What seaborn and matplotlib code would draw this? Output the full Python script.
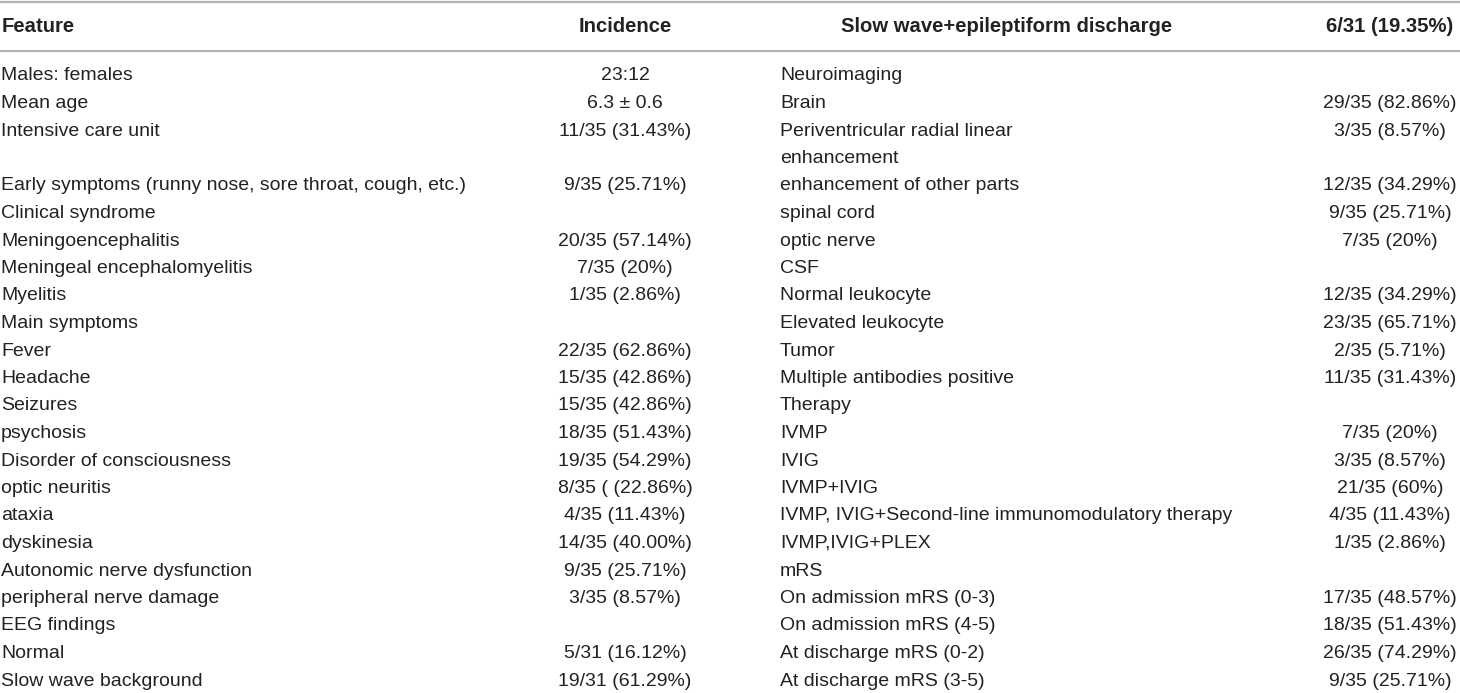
import matplotlib
matplotlib.use("Agg")
import matplotlib.pyplot as plt
import seaborn as sns

# table content
header_left = ["Feature", "Incidence"]
header_right = ["Slow wave+epileptiform discharge", "6/31 (19.35%)"]

left_labels = [
    "Males: females", "Mean age", "Intensive care unit",
    "Early symptoms (runny nose, sore throat, cough, etc.)",
    "Clinical syndrome", "Meningoencephalitis", "Meningeal encephalomyelitis",
    "Myelitis", "Main symptoms", "Fever", "Headache", "Seizures", "psychosis",
    "Disorder of consciousness", "optic neuritis", "ataxia", "dyskinesia",
    "Autonomic nerve dysfunction", "peripheral nerve damage", "EEG findings",
    "Normal", "Slow wave background",
]
left_values = [
    "23:12", "6.3 ± 0.6", "11/35 (31.43%)", "9/35 (25.71%)", "",
    "20/35 (57.14%)", "7/35 (20%)", "1/35 (2.86%)", "", "22/35 (62.86%)",
    "15/35 (42.86%)", "15/35 (42.86%)", "18/35 (51.43%)", "19/35 (54.29%)",
    "8/35 ( (22.86%)", "4/35 (11.43%)", "14/35 (40.00%)", "9/35 (25.71%)",
    "3/35 (8.57%)", "", "5/31 (16.12%)", "19/31 (61.29%)",
]
# the intensive care row is two lines high because of the wrapped cell on the right
left_heights = [1, 1, 2] + [1] * 19

right_labels = [
    "Neuroimaging", "Brain", "Periventricular radial linear\nenhancement",
    "enhancement of other parts", "spinal cord", "optic nerve", "CSF",
    "Normal leukocyte", "Elevated leukocyte", "Tumor",
    "Multiple antibodies positive", "Therapy", "IVMP", "IVIG", "IVMP+IVIG",
    "IVMP, IVIG+Second-line immunomodulatory therapy", "IVMP,IVIG+PLEX", "mRS",
    "On admission mRS (0-3)", "On admission mRS (4-5)",
    "At discharge mRS (0-2)", "At discharge mRS (3-5)",
]
right_values = [
    "", "29/35 (82.86%)", "3/35 (8.57%)", "12/35 (34.29%)", "9/35 (25.71%)",
    "7/35 (20%)", "", "12/35 (34.29%)", "23/35 (65.71%)", "2/35 (5.71%)",
    "11/35 (31.43%)", "", "7/35 (20%)", "3/35 (8.57%)", "21/35 (60%)",
    "4/35 (11.43%)", "1/35 (2.86%)", "", "17/35 (48.57%)", "18/35 (51.43%)",
    "26/35 (74.29%)", "9/35 (25.71%)",
]

sns.set_theme(style="white")
plt.rcParams["font.family"] = ["Liberation Sans", "DejaVu Sans"]

W, H = 1460, 693
fig = plt.figure(figsize=(14.6, 6.93), dpi=100)
ax = fig.add_axes([0, 0, 1, 1])
ax.set_xlim(0, W)
ax.set_ylim(H, 0)
ax.axis("off")

txt = "#222222"
rule = "#b3b3b3"
fs_head = 14.6
fs = 14.0
first_y = 76
step = 27.5

# rules
ax.axhline(1.5, color=rule, lw=1.6)
ax.axhline(51, color=rule, lw=1.6)

# header
ax.text(2, 26, header_left[0], ha="left", va="center", fontsize=fs_head, fontweight="bold", color=txt)
ax.text(625, 26, header_left[1], ha="center", va="center", fontsize=fs_head, fontweight="bold", color=txt)
ax.text(1007, 26, header_right[0], ha="center", va="center", fontsize=fs_head, fontweight="bold", color=txt)
ax.text(1390, 26, header_right[1], ha="center", va="center", fontsize=fs_head, fontweight="bold", color=txt)

# left half
line = 0
for lab, val, h in zip(left_labels, left_values, left_heights):
    y = first_y + line * step
    ax.text(1, y, lab, ha="left", va="center", fontsize=fs, color=txt)
    ax.text(625, y, val, ha="center", va="center", fontsize=fs, color=txt)
    line += h

# right half
line = 0
for lab, val in zip(right_labels, right_values):
    y = first_y + line * step
    parts = lab.split("\n")
    for k, p in enumerate(parts):
        ax.text(780, y + k * step, p, ha="left", va="center", fontsize=fs, color=txt)
    ax.text(1390, y, val, ha="center", va="center", fontsize=fs, color=txt)
    line += len(parts)

plt.savefig("out.png", dpi=100)
